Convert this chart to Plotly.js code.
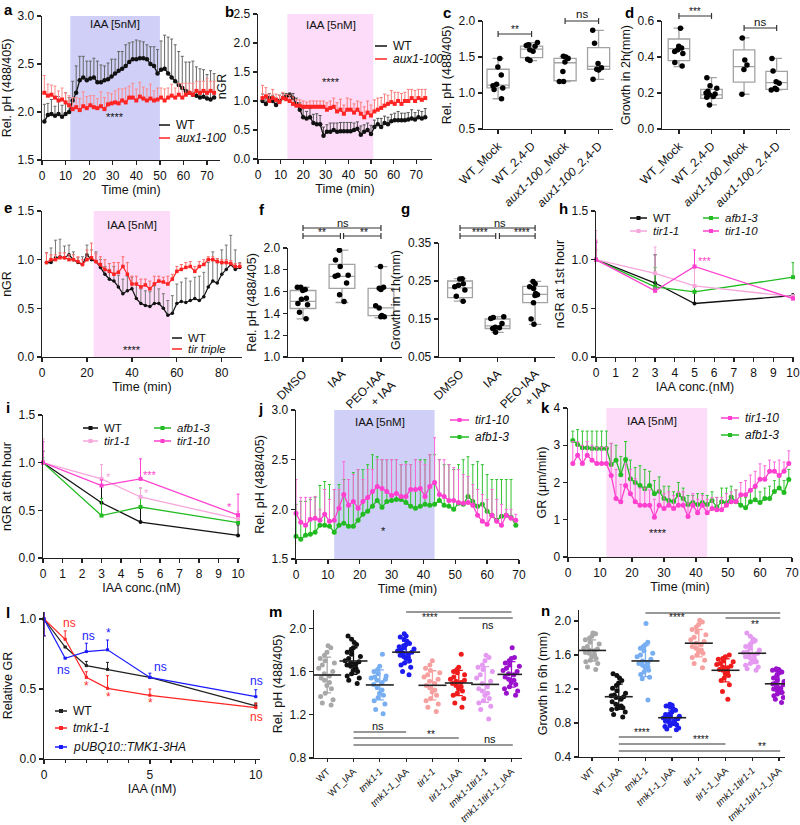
<!DOCTYPE html>
<html><head><meta charset="utf-8">
<script src="https://cdn.plot.ly/plotly-3.0.1.min.js"></script>
<style>html,body{margin:0;padding:0;background:#fff}#chart{width:800px;height:825px}</style>
</head><body><div id="chart"></div>
<script>
// ================= DATA =================
// panel a
const a_time=[1,2.5,4,5.5,7,8.5,10,11.5,13,14.5,16,17.5,19,20.5,22,23.5,25,26.5,28,29.5,31,32.5,34,35.5,37,38.5,40,41.5,43,44.5,46,47.5,49,50.5,52,53.5,55,56.5,58,59.5,61,62.5,64,65.5,67,68.5,70,71.5,73];
const a_WT=[1.90,1.97,1.98,1.96,1.98,1.95,1.98,2.00,2.12,2.20,2.33,2.36,2.33,2.35,2.36,2.31,2.31,2.33,2.34,2.37,2.40,2.43,2.45,2.48,2.52,2.55,2.55,2.56,2.56,2.55,2.50,2.48,2.40,2.44,2.45,2.40,2.36,2.32,2.28,2.25,2.22,2.20,2.18,2.17,2.15,2.16,2.14,2.13,2.15];
const a_WT_err=[0.18,0.12,0.15,0.10,0.18,0.12,0.22,0.15,0.20,0.28,0.25,0.22,0.20,0.18,0.20,0.22,0.18,0.15,0.17,0.18,0.15,0.20,0.18,0.22,0.20,0.18,0.20,0.18,0.17,0.15,0.18,0.20,0.25,0.30,0.35,0.38,0.40,0.38,0.35,0.33,0.30,0.32,0.35,0.30,0.30,0.28,0.25,0.30,0.25];
const a_aux=[2.20,2.17,2.18,2.15,2.12,2.13,2.10,2.07,2.03,2.05,2.02,2.06,2.04,2.07,2.05,2.04,2.06,2.03,2.08,2.09,2.10,2.09,2.12,2.10,2.15,2.15,2.12,2.16,2.14,2.12,2.14,2.12,2.13,2.15,2.12,2.15,2.17,2.15,2.18,2.15,2.18,2.20,2.18,2.22,2.20,2.22,2.20,2.22,2.20];
const a_aux_err=[0.18,0.12,0.10,0.12,0.10,0.12,0.10,0.10,0.12,0.10,0.12,0.15,0.12,0.10,0.12,0.10,0.15,0.12,0.12,0.10,0.12,0.15,0.12,0.15,0.12,0.15,0.12,0.15,0.12,0.12,0.15,0.10,0.12,0.10,0.12,0.10,0.12,0.10,0.12,0.15,0.12,0.10,0.12,0.10,0.12,0.10,0.15,0.10,0.12];
// panel b
const b_time=[2,3.5,5,6.5,8,9.5,11,12.5,14,15.5,17,18.5,20,21.5,23,24.5,26,27.5,29,30.5,32,33.5,35,36.5,38,39.5,41,42.5,44,45.5,47,48.5,50,51.5,53,54.5,56,57.5,59,60.5,62,63.5,65,66.5,68,69.5,71,72.5,74];
const b_WT=[1.00,0.95,1.05,1.00,0.93,1.00,1.05,1.08,1.10,1.05,0.95,0.85,0.72,0.70,0.72,0.62,0.60,0.60,0.40,0.47,0.47,0.50,0.47,0.48,0.48,0.48,0.48,0.50,0.52,0.42,0.47,0.50,0.43,0.55,0.60,0.55,0.62,0.60,0.65,0.67,0.67,0.67,0.67,0.68,0.70,0.68,0.72,0.70,0.72];
const b_WT_err=[0.12,0.10,0.08,0.10,0.12,0.10,0.08,0.05,0.04,0.08,0.10,0.12,0.15,0.12,0.15,0.15,0.18,0.15,0.15,0.12,0.15,0.12,0.15,0.15,0.15,0.15,0.15,0.12,0.12,0.15,0.12,0.12,0.15,0.12,0.10,0.15,0.12,0.12,0.12,0.12,0.15,0.12,0.12,0.12,0.15,0.12,0.12,0.12,0.15];
const b_aux=[1.05,1.08,1.00,1.05,1.02,0.98,1.05,1.03,1.00,0.95,0.92,0.92,0.90,0.90,0.90,0.90,0.90,0.90,0.90,0.85,0.88,0.90,0.82,0.85,0.78,0.85,0.85,0.80,0.85,0.78,0.72,0.80,0.75,0.82,0.85,0.88,0.92,0.95,0.98,0.95,1.00,0.95,1.00,1.00,1.05,1.00,1.05,1.02,1.05];
const b_aux_err=[0.22,0.15,0.12,0.15,0.10,0.12,0.10,0.08,0.10,0.12,0.10,0.10,0.10,0.08,0.10,0.10,0.10,0.10,0.10,0.12,0.12,0.15,0.15,0.18,0.15,0.20,0.18,0.15,0.15,0.20,0.18,0.20,0.18,0.20,0.20,0.18,0.20,0.15,0.20,0.20,0.15,0.18,0.15,0.20,0.15,0.18,0.15,0.18,0.15];
// panel c (box stats + points)
const c_cats=['WT_Mock','WT_2,4-D','<i>aux1-100</i>_Mock','<i>aux1-100</i>_2,4-D'];
const c_q1=[1.07,1.49,1.17,1.33], c_med=[1.11,1.61,1.42,1.37], c_q3=[1.33,1.65,1.48,1.63], c_lo=[0.92,1.45,1.16,1.19], c_hi=[1.48,1.70,1.51,1.87];
const c_pts=[[1.48,1.36,1.25,1.12,1.10,1.07,1.05,0.92],[1.70,1.67,1.66,1.65,1.60,1.58,1.47,1.45],[1.51,1.50,1.48,1.43,1.30,1.16,1.16],[1.87,1.69,1.41,1.35,1.33,1.32,1.19]];
// panel d
const d_cats=c_cats;
const d_q1=[0.38,0.17,0.26,0.22], d_med=[0.447,0.19,0.346,0.258], d_q3=[0.50,0.22,0.44,0.32], d_lo=[0.346,0.134,0.193,0.217], d_hi=[0.56,0.285,0.506,0.392];
const d_pts=[[0.56,0.46,0.45,0.44,0.43,0.42,0.37,0.35],[0.285,0.24,0.226,0.21,0.20,0.195,0.19,0.18,0.177,0.134],[0.506,0.383,0.355,0.33,0.193],[0.392,0.322,0.263,0.254,0.226,0.22,0.217]];
// panel e
const e_time=[2,4,6,8,10,12,14,16,18,20,22,24,26,28,30,32,34,36,38,40,42,44,46,48,50,52,54,56,58,60,62,64,66,68,70,72,74,76,78,80,82,84,86,88];
const e_WT=[0.97,0.97,1.02,1.03,1.02,1.05,1.00,0.97,0.95,1.05,1.00,0.98,0.92,0.85,0.80,0.78,0.72,0.65,0.68,0.70,0.60,0.55,0.53,0.52,0.55,0.55,0.50,0.43,0.45,0.55,0.57,0.56,0.58,0.60,0.58,0.62,0.72,0.78,0.76,0.85,0.90,0.95,0.90,0.92];
const e_WT_err=[0.10,0.15,0.18,0.18,0.12,0.10,0.08,0.05,0.08,0.10,0.10,0.10,0.08,0.08,0.10,0.15,0.12,0.15,0.15,0.12,0.15,0.15,0.15,0.15,0.18,0.15,0.15,0.15,0.18,0.20,0.20,0.25,0.20,0.22,0.25,0.25,0.25,0.30,0.25,0.25,0.25,0.30,0.20,0.05];
const e_tir=[0.97,1.00,1.00,1.02,1.02,1.00,1.00,0.98,0.95,1.00,1.02,0.98,0.95,0.90,0.88,0.85,0.87,0.93,0.85,0.75,0.75,0.72,0.74,0.70,0.75,0.78,0.77,0.75,0.80,0.88,0.90,0.92,0.93,0.88,0.93,0.95,1.00,1.00,0.98,0.97,0.97,0.96,0.93,0.93];
const e_tir_err=[0.10,0.05,0.05,0.05,0.05,0.05,0.05,0.05,0.05,0.10,0.15,0.08,0.08,0.10,0.08,0.12,0.10,0.10,0.12,0.08,0.08,0.08,0.06,0.08,0.08,0.05,0.05,0.08,0.05,0.05,0.05,0.05,0.05,0.05,0.05,0.05,0.03,0.03,0.03,0.03,0.03,0.03,0.03,0.03];
// panel f
const f_cats=['DMSO','IAA','PEO-IAA<br>+ IAA'];
const f_q1=[1.445,1.63,1.38], f_med=[1.51,1.74,1.45], f_q3=[1.61,1.85,1.63], f_lo=[1.35,1.50,1.36], f_hi=[1.64,1.98,1.83];
const f_pts=[[1.64,1.64,1.62,1.61,1.54,1.53,1.49,1.48,1.41,1.35],[1.98,1.89,1.83,1.75,1.75,1.74,1.68,1.57,1.51],[1.83,1.64,1.63,1.62,1.47,1.45,1.38,1.37,1.37]];
// panel g
const g_cats=f_cats;
const g_q1=[0.206,0.125,0.193], g_med=[0.232,0.132,0.215], g_q3=[0.25,0.15,0.236], g_lo=[0.197,0.115,0.136], g_hi=[0.256,0.156,0.249];
const g_pts=[[0.256,0.255,0.243,0.239,0.235,0.226,0.21,0.197],[0.156,0.154,0.151,0.138,0.128,0.127,0.125,0.115],[0.249,0.243,0.235,0.23,0.217,0.214,0.212,0.193,0.15,0.136]];
// panel h / i
const conc=[0,3,5,10];
const h_WT=[1.0,0.76,0.55,0.63], h_WT_err=[0.18,0.29,0.17,0.02];
const h_afb=[1.0,0.72,0.67,0.82], h_afb_err=[0.10,0.20,0.06,0.15];
const h_tir11=[1.0,0.86,0.73,0.62], h_tir11_err=[0.30,0.27,0.18,0.02];
const h_tir110=[1.0,0.68,0.93,0.60], h_tir110_err=[0.20,0.03,0.17,0.02];
const i_WT=[1.0,0.58,0.377,0.237], i_WT_err=[0.12,0.19,0.17,0.11];
const i_afb=[1.0,0.445,0.535,0.37], i_afb_err=[0.05,0.18,0.20,0.05];
const i_tir11=[1.0,0.83,0.64,0.41], i_tir11_err=[0.25,0.15,0.10,0.08];
const i_tir110=[1.0,0.76,0.83,0.45], i_tir110_err=[0.22,0.06,0.21,0.22];
// panel j
const j_time=[0,1.5,3,4.5,6,7.5,9,10.5,12,13.5,15,16.5,18,19.5,21,22.5,24,25.5,27,28.5,30,31.5,33,34.5,36,37.5,39,40.5,42,43.5,45,46.5,48,49.5,51,52.5,54,55.5,57,58.5,60,61.5,63,64.5,66,67.5,69];
const j_tir110=[1.96,1.87,1.84,1.90,1.91,1.89,1.95,1.88,1.89,2.01,2.15,2.04,2.08,2.01,2.08,2.12,2.18,2.23,2.21,2.18,2.14,2.16,2.13,2.13,2.20,2.20,2.21,2.13,2.23,2.27,2.15,2.13,2.09,2.09,2.07,2.06,2.07,2.04,1.94,1.88,1.85,1.94,1.88,1.84,1.94,1.91,1.89];
const j_tir110_hi=[2.30,2.12,2.12,2.12,2.13,2.00,2.20,2.10,2.20,2.20,2.48,2.30,2.35,2.40,2.30,2.40,2.40,2.50,2.50,2.50,2.50,2.50,2.45,2.45,2.45,2.50,2.48,2.45,2.55,2.72,2.50,2.50,2.45,2.42,2.40,2.35,2.33,2.25,2.20,2.15,2.10,2.20,2.10,2.05,2.00,2.00,1.95];
const j_afb=[1.73,1.70,1.74,1.75,1.77,1.84,1.84,1.83,1.77,1.84,1.86,1.83,1.83,1.89,1.95,1.98,2.03,2.09,2.02,2.08,2.09,2.10,2.10,2.07,2.03,2.01,2.03,2.05,2.04,2.05,2.09,2.04,2.03,2.00,2.06,2.05,2.13,2.08,2.03,2.05,1.98,1.94,1.89,1.93,1.94,1.92,1.84];
const j_afb_hi=[2.05,2.08,2.08,2.10,2.12,2.24,2.28,2.25,2.20,2.25,2.30,2.30,2.37,2.40,2.40,2.45,2.55,2.53,2.50,2.50,2.50,2.50,2.45,2.48,2.45,2.50,2.50,2.50,2.55,2.55,2.50,2.45,2.45,2.40,2.45,2.50,2.53,2.45,2.48,2.45,2.35,2.30,2.30,2.30,2.30,2.30,1.90];
// panel k
const k_time=[1.5,3,4.5,6,7.5,9,10.5,12,13.5,15,16.5,18,19.5,21,22.5,24,25.5,27,28.5,30,31.5,33,34.5,36,37.5,39,40.5,42,43.5,45,46.5,48,49.5,51,52.5,54,55.5,57,58.5,60,61.5,63,64.5,66,67.5,69];
const k_tir110=[2.51,2.73,2.51,2.73,2.60,2.51,2.51,2.51,2.19,1.57,1.48,1.92,1.70,1.48,1.39,1.39,1.39,1.07,1.39,1.30,1.39,1.30,1.39,1.39,1.09,1.39,1.19,1.39,1.19,1.30,1.27,1.27,1.39,1.48,1.49,1.67,1.67,1.79,1.90,2.09,2.09,2.30,2.30,2.19,2.30,2.51];
const k_tir110_hi=[3.10,3.10,3.00,3.10,3.00,2.95,2.95,2.95,3.05,2.35,1.95,2.50,2.35,2.10,1.85,1.85,1.80,1.55,1.80,1.70,1.75,1.65,1.75,1.75,1.45,1.70,1.55,1.65,1.55,1.60,1.60,1.60,1.70,1.75,1.80,2.00,2.05,2.20,2.30,2.50,2.45,2.60,2.55,2.60,2.55,2.85];
const k_afb=[3.13,3.02,2.93,2.93,2.91,2.91,2.91,2.91,2.48,2.60,2.21,2.62,2.10,2.00,1.92,1.83,1.92,1.70,1.76,1.57,1.52,1.49,1.67,1.57,1.41,1.46,1.41,1.46,1.41,1.52,1.34,1.48,1.45,1.61,1.48,1.39,1.32,1.48,1.54,1.46,1.57,1.57,1.76,1.85,1.73,2.08];
const k_afb_hi=[3.38,3.42,3.38,3.38,3.38,3.38,3.38,3.38,3.05,3.00,2.70,3.10,2.60,2.40,2.45,2.35,2.30,2.05,2.15,1.90,1.90,1.75,2.00,1.85,1.65,1.65,1.70,1.70,1.65,1.75,1.60,1.85,1.85,1.90,1.80,1.70,1.60,1.80,1.85,1.75,1.85,1.90,2.05,2.20,2.05,2.35];
// panel l
const l_conc=[0,1,2,3,5,10];
const l_WT=[1.0,0.80,0.667,0.64,0.583,0.38], l_WT_err=[0.08,0.0,0.03,0.05,0.0,0.02];
const l_tmk=[1.0,0.855,0.583,0.505,0.455,0.367], l_tmk_err=[0.10,0.06,0.04,0.09,0.045,0.03];
const l_ubq=[1.0,0.72,0.767,0.78,0.583,0.445], l_ubq_err=[0.12,0.0,0.06,0.07,0.03,0.05];
const l_minus=[0.12,0,0,0,0,0];
// panels m / n
const mn_cats=['WT','WT_IAA','<i>tmk1-1</i>','<i>tmk1-1</i>_IAA','<i>tir1-1</i>','<i>tir1-1</i>_IAA','<i>tmk1-1tir1-1</i>','<i>tmk1-1tir1-1</i>_IAA'];
const m_WT=[1.84,1.82,1.78,1.75,1.72,1.70,1.68,1.66,1.63,1.60,1.58,1.56,1.54,1.52,1.50,1.47,1.44,1.40,1.37,1.34,1.31,1.29];
const m_WT_IAA=[1.93,1.90,1.87,1.85,1.82,1.80,1.78,1.76,1.74,1.72,1.70,1.69,1.68,1.67,1.66,1.65,1.63,1.61,1.60,1.58,1.56,1.54,1.52,1.49];
const m_tmk1=[1.76,1.65,1.62,1.60,1.58,1.56,1.55,1.54,1.53,1.52,1.50,1.48,1.45,1.43,1.40,1.38,1.36,1.33,1.30,1.25,1.21];
const m_tmk1_IAA=[1.95,1.93,1.92,1.90,1.88,1.86,1.85,1.84,1.83,1.82,1.81,1.80,1.79,1.78,1.77,1.76,1.75,1.74,1.73,1.72,1.70,1.68,1.66,1.64,1.60,1.57];
const m_tir1=[1.70,1.66,1.63,1.61,1.59,1.57,1.55,1.53,1.51,1.49,1.47,1.45,1.43,1.41,1.38,1.35,1.33,1.30,1.27,1.23];
const m_tir1_IAA=[1.76,1.64,1.62,1.60,1.59,1.57,1.55,1.53,1.52,1.51,1.50,1.49,1.47,1.46,1.44,1.42,1.40,1.38,1.35,1.31,1.27];
const m_dbl=[1.75,1.73,1.70,1.66,1.64,1.62,1.60,1.57,1.54,1.51,1.49,1.46,1.44,1.42,1.40,1.38,1.35,1.33,1.31,1.28,1.25,1.16];
const m_dbl_IAA=[1.82,1.73,1.72,1.70,1.68,1.66,1.65,1.63,1.61,1.60,1.58,1.57,1.55,1.53,1.52,1.50,1.48,1.46,1.44,1.42,1.40,1.38];
const n_WT=[1.86,1.85,1.82,1.80,1.78,1.75,1.73,1.70,1.68,1.67,1.66,1.65,1.63,1.62,1.60,1.58,1.56,1.54,1.52,1.50,1.46,1.43];
const n_WT_IAA=[1.38,1.36,1.33,1.30,1.27,1.24,1.21,1.18,1.15,1.13,1.12,1.11,1.10,1.08,1.05,1.02,1.00,0.99,0.98,0.97,0.96,0.93,0.90,0.87];
const n_tmk1=[1.97,1.75,1.72,1.70,1.68,1.65,1.62,1.60,1.58,1.55,1.53,1.51,1.50,1.48,1.46,1.45,1.42,1.40,1.37,1.34,1.32,1.07];
const n_tmk1_IAA=[1.02,1.01,1.00,0.99,0.97,0.95,0.93,0.91,0.90,0.89,0.88,0.87,0.86,0.85,0.84,0.83,0.82,0.81,0.80,0.79,0.78,0.77,0.76,0.74,0.73,0.72];
const n_tir1=[2.01,1.99,1.96,1.93,1.90,1.87,1.84,1.81,1.78,1.76,1.74,1.72,1.70,1.68,1.66,1.64,1.62,1.60,1.57,1.54,1.50,1.45];
const n_tir1_IAA=[1.60,1.58,1.56,1.55,1.53,1.52,1.50,1.49,1.47,1.46,1.45,1.43,1.42,1.40,1.38,1.36,1.33,1.30,1.25,1.17,1.08];
const n_dbl=[1.86,1.82,1.79,1.77,1.75,1.72,1.70,1.68,1.66,1.64,1.63,1.62,1.61,1.60,1.58,1.57,1.55,1.53,1.52,1.50,1.48,1.46,1.44,1.42];
const n_dbl_IAA=[1.44,1.43,1.42,1.42,1.41,1.40,1.39,1.36,1.33,1.31,1.29,1.27,1.26,1.25,1.23,1.21,1.20,1.19,1.18,1.17,1.16,1.14,1.12,1.10,1.08,1.04];

// ================= STYLE / HELPERS =================
const F='Liberation Sans, Arial, sans-serif';
const C={blk:'#111111',red:'#ff2424',mag:'#ff3fcf',grn:'#22bb22',pink:'#f7a6dc',blue:'#1a1aff'};
const mnColors=['#a8a8a8','#111111','#78aef2','#1c1cf0','#f7a0a0','#f01c1c','#e59af2','#9a12cc'];
const X=p=>p/800, Y=p=>1-p/825;
const traces=[], shapes=[], annotations=[], layout={};
const axn=n=>n===1?['x','y']:['x'+n,'y'+n];
const base={showline:true,linecolor:'#222',linewidth:1.3,ticks:'outside',ticklen:4,tickwidth:1.3,tickcolor:'#222',showgrid:false,zeroline:false,fixedrange:true,ticklabeloverflow:'allow',tickfont:{family:F,size:12,color:'#111'}};
const TF={family:F,size:12.5,color:'#111'};
function panel(n,dom,xo,yo,xt,yt){
  const [xa,ya]=axn(n);
  layout['xaxis'+(n===1?'':n)]=Object.assign({},base,{domain:[X(dom[0]),X(dom[1])],anchor:ya},xt?{title:{text:xt,font:TF,standoff:3}}:{},xo);
  layout['yaxis'+(n===1?'':n)]=Object.assign({},base,{domain:[Y(dom[3]),Y(dom[2])],anchor:xa},yt?{title:{text:yt,font:TF,standoff:4}}:{},yo);
}
function ts(n,x,y,err,color,ecolor,sym,size,lw,minus){
  const [xa,ya]=axn(n);
  traces.push({type:'scatter',mode:'lines+markers',x:x,y:y,xaxis:xa,yaxis:ya,cliponaxis:false,
    line:{color:color,width:lw||1.3},marker:{color:color,size:size||4,symbol:sym||'circle'},
    error_y:{type:'data',symmetric:false,array:err,arrayminus:minus||err.map(()=>0),color:ecolor,thickness:1,width:1.5},
    showlegend:false,hoverinfo:'skip'});
}
const diff=(hi,v)=>hi.map((h,i)=>Math.max(0,h-v[i]));
function boxPanel(n,q1,med,q3,lo,hi,pts,w){
  const [xa,ya]=axn(n);
  traces.push({type:'box',orientation:'v',x:q1.map((_,i)=>i),q1:q1,median:med,q3:q3,lowerfence:lo,upperfence:hi,xaxis:xa,yaxis:ya,
    boxpoints:false,fillcolor:'rgba(255,255,255,0)',line:{color:'#a3a3a3',width:1.3},whiskerwidth:0.5,width:w,showlegend:false,hoverinfo:'skip'});
  const xs=[],ys=[]; pts.forEach((g,i)=>g.forEach(v=>{xs.push(i);ys.push(v);}));
  traces.push({type:'box',x:xs,y:ys,xaxis:xa,yaxis:ya,boxpoints:'all',jitter:0.6,pointpos:0,width:w,
    fillcolor:'rgba(0,0,0,0)',line:{width:0,color:'rgba(0,0,0,0)'},marker:{color:'#000',size:5.5},showlegend:false,hoverinfo:'skip'});
}
function dotPanel(n,groups){
  const [xa,ya]=axn(n);
  groups.forEach((g,i)=>{
    traces.push({type:'box',x:g.map(()=>i),y:g,xaxis:xa,yaxis:ya,boxpoints:'all',jitter:0.9,pointpos:0,width:0.75,
      fillcolor:'rgba(0,0,0,0)',line:{width:0,color:'rgba(0,0,0,0)'},marker:{color:mnColors[i],size:5},showlegend:false,hoverinfo:'skip'});
    const mean=g.reduce((s,v)=>s+v,0)/g.length;
    const sd=Math.sqrt(g.reduce((s,v)=>s+(v-mean)*(v-mean),0)/(g.length-1));
    traces.push({type:'scatter',mode:'markers',x:[i],y:[mean],xaxis:xa,yaxis:ya,
      marker:{symbol:'line-ew',size:20,color:'#222',line:{color:'#222',width:1.6}},
      error_y:{type:'data',array:[sd],color:mnColors[i],thickness:1.3,width:4},showlegend:false,hoverinfo:'skip'});
  });
}
function ann(x,y,text,o){annotations.push(Object.assign({xref:'paper',yref:'paper',x:X(x),y:Y(y),text:text,showarrow:false,xanchor:'center',yanchor:'middle',font:{family:F,size:11,color:'#111'}},o||{}));}
function letter(x,y,t){ann(x,y,'<b>'+t+'</b>',{font:{family:F,size:15,color:'#000'}});}
function bracket(n,i0,i1,ypx,tk){
  const xa=axn(n)[0];
  shapes.push({type:'line',xref:xa,yref:'paper',x0:i0,x1:i1,y0:Y(ypx),y1:Y(ypx),line:{color:'#333',width:1.2}});
  if(tk)[i0,i1].forEach(v=>shapes.push({type:'line',xref:xa,yref:'paper',x0:v,x1:v,y0:Y(ypx-3),y1:Y(ypx+3),line:{color:'#333',width:1.2}}));
}
function shade(n,x0,x1,col){const [xa,ya]=axn(n);shapes.push({type:'rect',xref:xa,yref:ya+' domain',x0:x0,x1:x1,y0:0,y1:1,fillcolor:col,line:{width:0},layer:'below'});}
function leg(x0,len,y,color,text,italic,mk,fs){
  shapes.push({type:'line',xref:'paper',yref:'paper',x0:X(x0),x1:X(x0+len),y0:Y(y),y1:Y(y),line:{color:color,width:1.5}});
  if(mk){const c=x0+len/2;shapes.push({type:'rect',xref:'paper',yref:'paper',x0:X(c-2),x1:X(c+2),y0:Y(y+2),y1:Y(y-2),fillcolor:color,line:{width:0}});}
  ann(x0+len+4,y,italic?'<i>'+text+'</i>':text,{xanchor:'left',font:{family:F,size:fs||12,color:'#111'}});
}
const lav='#cfcff8', pnk='#fcdcf8';
const IAAF={family:F,size:11.5,color:'#111'};
const smallF={family:F,size:10,color:'#111'};

// ================= PANELS =================
// a
panel(1,[42,220,16,160],{range:[0,75.5],dtick:10,tick0:0},{range:[1.5,3.0],dtick:0.5,tickformat:'.1f'},'Time (min)','Rel. pH (488/405)');
shade(1,12,50,lav);
ts(1,a_time,a_WT,a_WT_err,C.blk,'#666','circle',4.5);
ts(1,a_time,a_aux,a_aux_err,C.red,'#ff8a8a','square',4);
letter(8,10,'a'); ann(115,24,'IAA [5nM]',{font:IAAF}); ann(115,117,'****');
leg(159,11,125,C.blk,'WT',false,false); leg(159,11,138,C.red,'aux1-100',true,false);
// b
panel(2,[258,432,14,159],{range:[0,77],dtick:10,tick0:0},{range:[0,2.5],dtick:0.5,tickformat:'.1f'},'Time (min)','nGR');
shade(2,13,51,pnk);
ts(2,b_time,b_WT,b_WT_err,C.blk,'#555','circle',4.5);
ts(2,b_time,b_aux,b_aux_err,C.red,'#ff7a7a','square',4);
letter(229,12,'b'); ann(331,25,'IAA [5nM]',{font:IAAF}); ann(331,82,'****');
leg(375,12,46,C.blk,'WT',false,false); leg(375,12,59,C.red,'aux1-100',true,false);
// c
panel(3,[483,613,21,129],{range:[-0.45,3.43],tickvals:[0,1,2,3],ticktext:c_cats,tickangle:-45},{range:[0.5,2.0],dtick:0.5,tickformat:'.1f'},null,'Rel. pH (488/405)');
boxPanel(3,c_q1,c_med,c_q3,c_lo,c_hi,c_pts,0.66);
letter(447,13,'c');
bracket(3,0,1,34,true); ann(515,29,'**',{font:smallF});
bracket(3,2,3,21,true); ann(582,14,'ns',{font:{family:F,size:11.5,color:'#111'}});
// d
panel(4,[662,790,21,129],{range:[-0.52,3.41],tickvals:[0,1,2,3],ticktext:d_cats,tickangle:-45},{range:[0,0.6],dtick:0.2,tickformat:'.1f'},null,'Growth in 2h(mm)');
boxPanel(4,d_q1,d_med,d_q3,d_lo,d_hi,d_pts,0.66);
letter(629,13,'d');
bracket(4,0,1,16,true); ann(695,12,'***',{font:smallF});
bracket(4,2,3,28,true); ann(760,22,'ns',{font:{family:F,size:11.5,color:'#111'}});
// e
panel(5,[42,242,211,357],{range:[0,89],dtick:20,tick0:0},{range:[0,1.5],dtick:0.5,tickformat:'.1f'},'Time (min)','nGR');
shade(5,23,57,pnk);
ts(5,e_time,e_WT,e_WT_err,C.blk,'#777','circle',3.5,1.2);
ts(5,e_time,e_tir,e_tir_err,C.red,'#ff6a6a','square',3.5,1.2);
letter(8,207,'e'); ann(132,225,'IAA [5nM]',{font:IAAF}); ann(132,350,'****');
leg(172,10,338,C.blk,'WT',false,false,11.5); leg(172,10,349,C.red,'tir triple',true,false,11.5);
// f
panel(6,[288,402,248,357],{range:[-0.385,2.54],tickvals:[0,1,2],ticktext:f_cats,tickangle:-45},{range:[1.0,2.0],dtick:0.2,tickformat:'.1f'},null,'Rel. pH (488/405)');
boxPanel(6,f_q1,f_med,f_q3,f_lo,f_hi,f_pts,0.66);
letter(262,209,'f');
bracket(6,0,2,228,true); ann(343,223,'ns');
bracket(6,0,0.96,236,true); ann(322,232,'**',{font:smallF});
bracket(6,1.04,2,236,true); ann(364,232,'**',{font:smallF});
// g
panel(7,[439,555,243,357],{range:[-0.56,2.53],tickvals:[0,1,2],ticktext:g_cats,tickangle:-45},{range:[0.05,0.35],tickvals:[0.05,0.15,0.25,0.35],tickformat:'.2f'},null,'Growth in 1h(mm)');
boxPanel(7,g_q1,g_med,g_q3,g_lo,g_hi,g_pts,0.66);
letter(405,208,'g');
bracket(7,0,2,228,true); ann(500,223,'ns');
bracket(7,0,0.95,236,true); ann(480,232,'****',{font:smallF});
bracket(7,1.05,2,236,true); ann(522,232,'****',{font:smallF});
// h
panel(8,[596,794,211,357],{range:[0,10.05],dtick:1,tick0:0},{range:[0,1.5],dtick:0.5,tickformat:'.1f'},'IAA conc.(nM)','nGR at 1st hour');
ts(8,conc,h_WT,h_WT_err,C.blk,C.blk,'circle',4);
ts(8,conc,h_afb,h_afb_err,C.grn,C.grn,'square',4);
ts(8,conc,h_tir11,h_tir11_err,C.pink,C.pink,'square',4);
ts(8,conc,h_tir110,h_tir110_err,C.mag,C.mag,'square',4);
letter(563,208,'h'); ann(705,261,'***',{font:{family:F,size:11,color:C.mag}});
leg(630,17,218,C.blk,'WT',false,true,11.5); leg(703,16,218,C.grn,'afb1-3',true,true,11.5);
leg(630,17,231,C.pink,'tir1-1',true,true,11.5); leg(703,16,231,C.mag,'tir1-10',true,true,11.5);
// i
panel(9,[43,240,415,558],{range:[0,10.1],dtick:1,tick0:0},{range:[0,1.5],dtick:0.5,tickformat:'.1f'},'IAA conc.(nM)','nGR at 6th hour');
ts(9,conc,i_WT,i_WT_err,C.blk,C.blk,'circle',4);
ts(9,conc,i_afb,i_afb_err,C.grn,C.grn,'square',4);
ts(9,conc,i_tir11,i_tir11_err,C.pink,C.pink,'square',4);
ts(9,conc,i_tir110,i_tir110_err,C.mag,C.mag,'square',4);
letter(8,407,'i');
ann(108,477,'*',{font:{family:F,size:11,color:C.pink}}); ann(150,475,'***',{font:{family:F,size:11,color:C.mag}});
ann(146,493,'*',{font:{family:F,size:11,color:C.pink}}); ann(230,507,'*',{font:{family:F,size:11,color:C.mag}});
leg(83,15,428,C.blk,'WT',false,true,11.5); leg(154,17,428,C.grn,'afb1-3',true,true,11.5);
leg(83,15,441,C.pink,'tir1-1',true,true,11.5); leg(154,17,441,C.mag,'tir1-10',true,true,11.5);
// j
panel(10,[296,519,410,559],{range:[0,70],dtick:10,tick0:0},{range:[1.5,3.0],dtick:0.5,tickformat:'.1f'},'Time (min)','Rel. pH (488/405)');
shade(10,12,43.5,lav);
ts(10,j_time,j_afb,diff(j_afb_hi,j_afb),C.grn,'#33c433','circle',5);
ts(10,j_time,j_tir110,diff(j_tir110_hi,j_tir110),C.mag,'#ff66da','circle',5);
letter(260,408,'j'); ann(380,422,'IAA [5nM]',{font:IAAF}); ann(383,531,'*');
leg(450,19,420,C.mag,'tir1-10',true,true); leg(450,19,437,C.grn,'afb1-3',true,true);
// k
panel(11,[568,792,408,557],{range:[0,70],dtick:10,tick0:0},{range:[0,4],dtick:1},'Time (min)','GR (μm/min)');
shade(11,12,43.5,pnk);
ts(11,k_time,k_afb,diff(k_afb_hi,k_afb),C.grn,'#33c433','circle',5);
ts(11,k_time,k_tir110,diff(k_tir110_hi,k_tir110),C.mag,'#ff66da','circle',5);
letter(545,407,'k'); ann(652,421,'IAA [5nM]',{font:IAAF}); ann(658,533,'****');
leg(721,18,418,C.mag,'tir1-10',true,true); leg(721,18,435,C.grn,'afb1-3',true,true);
// l
panel(12,[44,260,612,759],{range:[0,10.2],tickvals:[0,5,10],minor:{dtick:1,tick0:0,ticks:'outside',ticklen:3,tickwidth:1.2,tickcolor:'#222'}},{range:[0,1.05],tickvals:[0,0.5,1.0],tickformat:'.1f'},'IAA (nM)','Relative GR');
ts(12,l_conc,l_WT,l_WT_err,'#222','#222','square',3,1.2,l_minus);
ts(12,l_conc,l_tmk,l_tmk_err,C.red,C.red,'square',3,1.2,l_minus);
ts(12,l_conc,l_ubq,l_ubq_err,C.blue,C.blue,'square',3,1.2,l_minus);
letter(8,612,'l');
const rs={family:F,size:12,color:'#ff2a2a'}, bs={family:F,size:12,color:'#1a1aff'};
ann(69,623,'ns',{font:rs}); ann(63,670,'ns',{font:bs}); ann(88,636,'ns',{font:bs}); ann(108,633,'*',{font:bs});
ann(160,667,'ns',{font:bs}); ann(256,681,'ns',{font:bs}); ann(256,717,'ns',{font:rs});
ann(86,686,'*',{font:rs}); ann(108,697,'*',{font:rs}); ann(150,703,'*',{font:rs});
leg(55,12,711,'#222','WT',false,true); leg(55,12,728,C.red,'tmk1-1',true,true); leg(55,12,747,C.blue,'pUBQ10::TMK1-3HA',true,true);
// m
const mnTick={family:F,size:9.5,color:'#111'};
panel(13,[314,522,610,758],{range:[-0.5,7.4],tickvals:[0,1,2,3,4,5,6,7],ticktext:mn_cats,tickangle:-45,tickfont:mnTick,ticklen:3},{range:[0.8,2.17],tickvals:[0.8,1.2,1.6,2.0],tickformat:'.1f'},null,'Rel. pH (488/405)');
dotPanel(13,[m_WT,m_WT_IAA,m_tmk1,m_tmk1_IAA,m_tir1,m_tir1_IAA,m_dbl,m_dbl_IAA]);
letter(275,611,'m');
bracket(13,3,7,612,false); ann(430,617,'****',{font:smallF});
bracket(13,5,7.05,618,false); ann(488,625,'ns');
bracket(13,1,3,732,false); ann(378,726,'ns');
bracket(13,1,5,738,false); ann(431,734,'**',{font:smallF});
bracket(13,1,7.05,745,false); ann(490,739,'ns');
// n
panel(14,[579,785,610,757],{range:[-0.49,7.23],tickvals:[0,1,2,3,4,5,6,7],ticktext:mn_cats,tickangle:-45,tickfont:mnTick,ticklen:3},{range:[0.4,2.13],tickvals:[0.4,0.8,1.2,1.6,2.0],tickformat:'.1f'},null,'Growth in 6h (mm)');
dotPanel(14,[n_WT,n_WT_IAA,n_tmk1,n_tmk1_IAA,n_tir1,n_tir1_IAA,n_dbl,n_dbl_IAA]);
letter(545,610,'n');
bracket(14,2,7.05,613,false); ann(677,617,'****',{font:smallF});
bracket(14,5,7.05,618,false); ann(755,624,'**',{font:smallF});
bracket(14,1,3,737,false); ann(642,732,'****',{font:smallF});
bracket(14,1,5,744,false); ann(701,739,'****',{font:smallF});
bracket(14,1,7.05,751,false); ann(762,746,'**',{font:smallF});

Object.assign(layout,{width:800,height:825,margin:{l:0,r:0,t:0,b:0},autosize:false,showlegend:false,
  paper_bgcolor:'#fff',plot_bgcolor:'rgba(0,0,0,0)',font:{family:F,size:12,color:'#111'},boxmode:'overlay',
  shapes:shapes,annotations:annotations});
Plotly.newPlot('chart',traces,layout,{displayModeBar:false,staticPlot:true});
</script></body></html>
